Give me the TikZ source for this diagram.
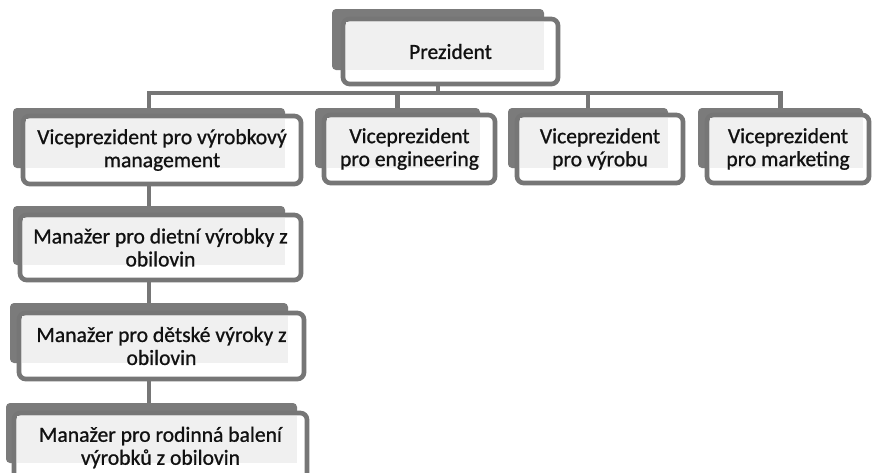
\documentclass[tikz,border=0pt]{standalone}
\usepackage{fontspec}
\setmainfont{Carlito}
\newfontfamily\cardfont[RawFeature={embolden=0.9}]{Carlito}
\usetikzlibrary{fit,backgrounds}

\definecolor{shade}{HTML}{7B7B7B}
\definecolor{rim}{HTML}{767676}
\definecolor{paper}{HTML}{F0F0F0}
\definecolor{ink}{HTML}{111111}

\tikzset{
  backbox/.style={fill=shade, draw=none, rounded corners=3pt, inner sep=0pt},
  frontbox/.style={fill=white, draw=rim, line width=3.5pt, rounded corners=5pt, inner sep=0pt},
  conn/.style={draw=rim, line width=3.5pt, line join=miter},
  boxtext/.style={font=\cardfont\fontsize{16.2}{17.25}\selectfont, text=ink, align=center, inner sep=0pt}
}

% #1 name, #2 #3 shadow corners, #4 #5 card corners, #6 text
\newcommand\orgunit[6]{%
  \node[backbox, fit={#2 #3}] (#1b) {};
  \node[frontbox, fit={#4 #5}] (#1) {};
  \fill[paper] ([shift={(5,5)}]#1.north west) rectangle (#1b.south east);
  \node[boxtext] (#1t) at (#1) {#6};
}

\begin{document}
\begin{tikzpicture}[x=0.75pt, y=-0.75pt]
  \useasboundingbox (0,0) rectangle (873,472);

  \orgunit{p}{(332,9)}{(544,70)}{(343,19)}{(558,84)}{Prezident}

  \orgunit{va}{(13,108)}{(285,168)}{(23,116)}{(301,184)}{Viceprezident pro výrobkový\\management}
  \orgunit{vb}{(315,108)}{(480,168)}{(324,115)}{(495,183)}{Viceprezident\\pro engineering}
  \orgunit{vc}{(508,108)}{(668,168)}{(517,115)}{(683,183)}{Viceprezident\\pro výrobu}
  \orgunit{vd}{(698,108)}{(863,168)}{(707,115)}{(869,183)}{Viceprezident\\pro marketing}

  \orgunit{ma}{(13,206)}{(285,265)}{(20,215)}{(301,280)}{Manažer pro dietní výrobky z\\obilovin}
  \orgunit{mb}{(10,303)}{(288,363)}{(19,313)}{(304,379)}{Manažer pro dětské výroky z\\obilovin}
  \orgunit{mc}{(6,403)}{(297,463)}{(14,413)}{(307,482)}{Manažer pro rodinná balení\\výrobků z obilovin}

  \coordinate (bus) at (0,93);

  \begin{pgfonlayer}{background}
    \fill[white] (0,0) rectangle (873,472);
    % president to the vice-president bus
    \draw[conn] (pb.center) -- (pb.center |- bus);
    \draw[conn] (vab.center) -- (vab.center |- bus) -- (vdb.center |- bus) -- (vdb.center);
    \draw[conn] (vbb.center |- bus) -- (vbb.center);
    \draw[conn] (vcb.center |- bus) -- (vcb.center);
    % chain of managers under the first vice-president
    \draw[conn] (vab.center) -- (vab.center |- mcb.center);
  \end{pgfonlayer}
\end{tikzpicture}
\end{document}
